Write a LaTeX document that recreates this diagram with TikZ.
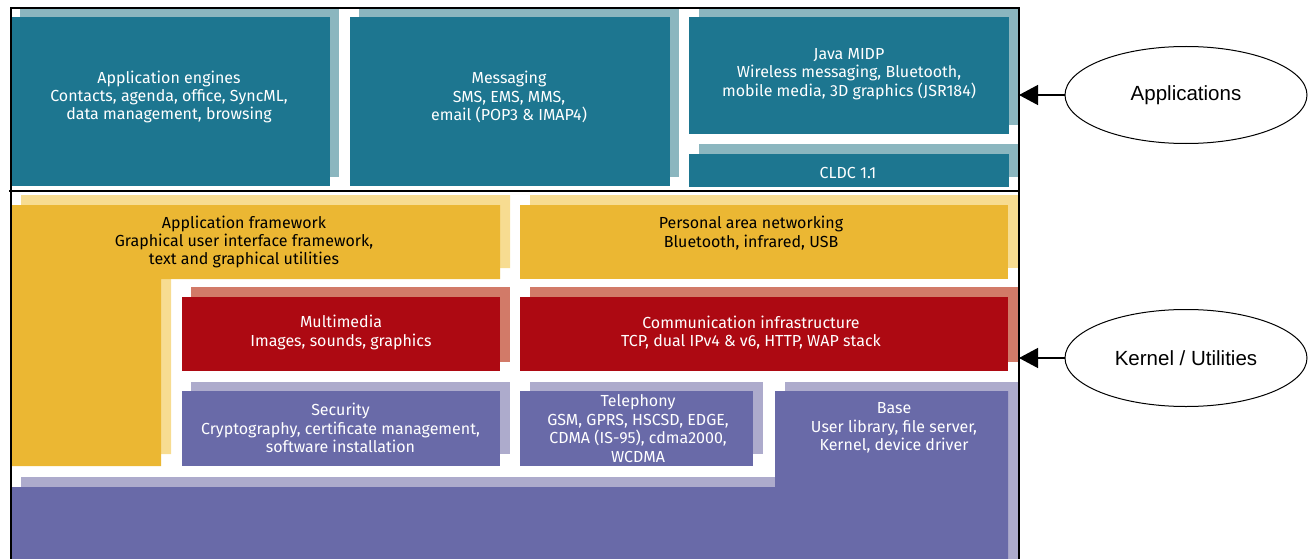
\documentclass[tikz,border=0pt]{standalone}
\usepackage{fontspec}
\setsansfont{Fira Sans}
\newfontfamily\ellipsefont{Liberation Sans}
\usepackage{tikz}
\usetikzlibrary{shapes.geometric, arrows, arrows.meta, positioning, calc}
\definecolor{AppTeal}{HTML}{1D7690}
\definecolor{AppTealLight}{HTML}{8BB6BF}
\definecolor{FrameYellow}{HTML}{EBB733}
\definecolor{FrameYellowLight}{HTML}{F7DC91}
\definecolor{CommRed}{HTML}{AD0912}
\definecolor{CommRedLight}{HTML}{D27A68}
\definecolor{BasePurple}{HTML}{696AA8}
\definecolor{BasePurpleLight}{HTML}{ADABCC}

\begin{document}
\begin{tikzpicture}[x=1pt, y=-1pt, >={Triangle[length=19pt,width=20pt]}]
    \tikzstyle{boxtext} = [align=center, inner sep=0pt, text=white, font=\sffamily\fontsize{16}{18.4}\selectfont]
    \tikzstyle{darktext} = [boxtext, text=black]
    \tikzstyle{role} = [ellipse, draw, line width=1pt, fill=white, minimum width=242pt, minimum height=97pt, font=\ellipsefont\fontsize{20.5}{24}\selectfont]
    \tikzstyle{line} = [draw, ->, line width=1.3pt]
    \useasboundingbox (0,0) rectangle (1311,559);

    % applications layer
    \fill[AppTealLight] (20,9) rectangle (339,177);
    \fill[AppTeal] (11,17) rectangle (330,186);
    \fill[AppTealLight] (359,9) rectangle (679,177);
    \fill[AppTeal] (350,17) rectangle (670,186);
    \fill[AppTealLight] (699,9) rectangle (1018,125);
    \fill[AppTeal] (689,17) rectangle (1009,134);
    \fill[AppTealLight] (699,144) rectangle (1018,177);
    \fill[AppTeal] (689,154) rectangle (1009,187);

    % kernel / utilities layer
    \fill[FrameYellowLight] (21,195) -- (510,195) -- (510,268) -- (171,268) -- (171,454) -- (21,454) -- cycle;
    \fill[FrameYellow] (11,205) -- (500,205) -- (500,279) -- (161,279) -- (161,466) -- (11,466) -- cycle;
    \fill[FrameYellowLight] (530,195) rectangle (1018,268);
    \fill[FrameYellow] (520,205) rectangle (1008,279);
    \fill[CommRedLight] (191,287) rectangle (510,362);
    \fill[CommRed] (182,297) rectangle (500,371);
    \fill[CommRedLight] (530,287) rectangle (1018,362);
    \fill[CommRed] (520,297) rectangle (1008,371);
    \fill[BasePurpleLight] (191,382) rectangle (510,454);
    \fill[BasePurple] (182,391) rectangle (500,466);
    \fill[BasePurpleLight] (530,382) rectangle (763,454);
    \fill[BasePurple] (520,391) rectangle (753,466);
    \fill[BasePurpleLight] (21,477) -- (785,477) -- (785,382) -- (1018,382) -- (1018,559) -- (21,559) -- cycle;
    \fill[BasePurple] (11,487) -- (775,487) -- (775,391) -- (1008,391) -- (1008,559) -- (11,559) -- cycle;

    % frame
    \draw[line width=2pt] (10.5,559) -- (10.5,8) -- (1019,8) -- (1019,559);
    \draw[line width=1.8pt] (9,191) -- (1019,191);

    \node [boxtext] (engines) at (169,97) {Application engines\\Contacts, agenda, office, SyncML,\\data management, browsing};
    \node [boxtext] (messaging) at (509,97) {Messaging\\SMS, EMS, MMS,\\email (POP3 \& IMAP4)};
    \node [boxtext] (midp) at (849,74) {Java MIDP\\Wireless messaging, Bluetooth,\\mobile media, 3D graphics (JSR184)};
    \node [boxtext] (cldc) at (848,173) {CLDC 1.1};
    \node [darktext] (appfw) at (244,242) {Application framework\\Graphical user interface framework,\\text and graphical utilities};
    \node [darktext] (pan) at (751,233) {Personal area networking\\Bluetooth, infrared, USB};
    \node [boxtext] (multimedia) at (341,332.5) {Multimedia\\Images, sounds, graphics};
    \node [boxtext] (comms) at (751,332.5) {Communication infrastructure\\TCP, dual IPv4 \& v6, HTTP, WAP stack};
    \node [boxtext] (security) at (340.5,428) {Security\\Cryptography, certificate management,\\software installation};
    \node [boxtext] (telephony) at (638,428.5) {Telephony\\GSM, GPRS, HSCSD, EDGE,\\CDMA (IS-95), cdma2000,\\WCDMA};
    \node [boxtext] (base) at (894,428) {Base\\User library, file server,\\Kernel, device driver};

    \node [role] (apps) at (1186,95) {Applications};
    \node [role] (kernel) at (1186,358) {Kernel / Utilities};
    \coordinate (appsin) at (1019,95);
    \coordinate (kernelin) at (1019,358);

    \path [line] (apps) -- (appsin);
    \path [line] (kernel) -- (kernelin);
\end{tikzpicture}
\end{document}
